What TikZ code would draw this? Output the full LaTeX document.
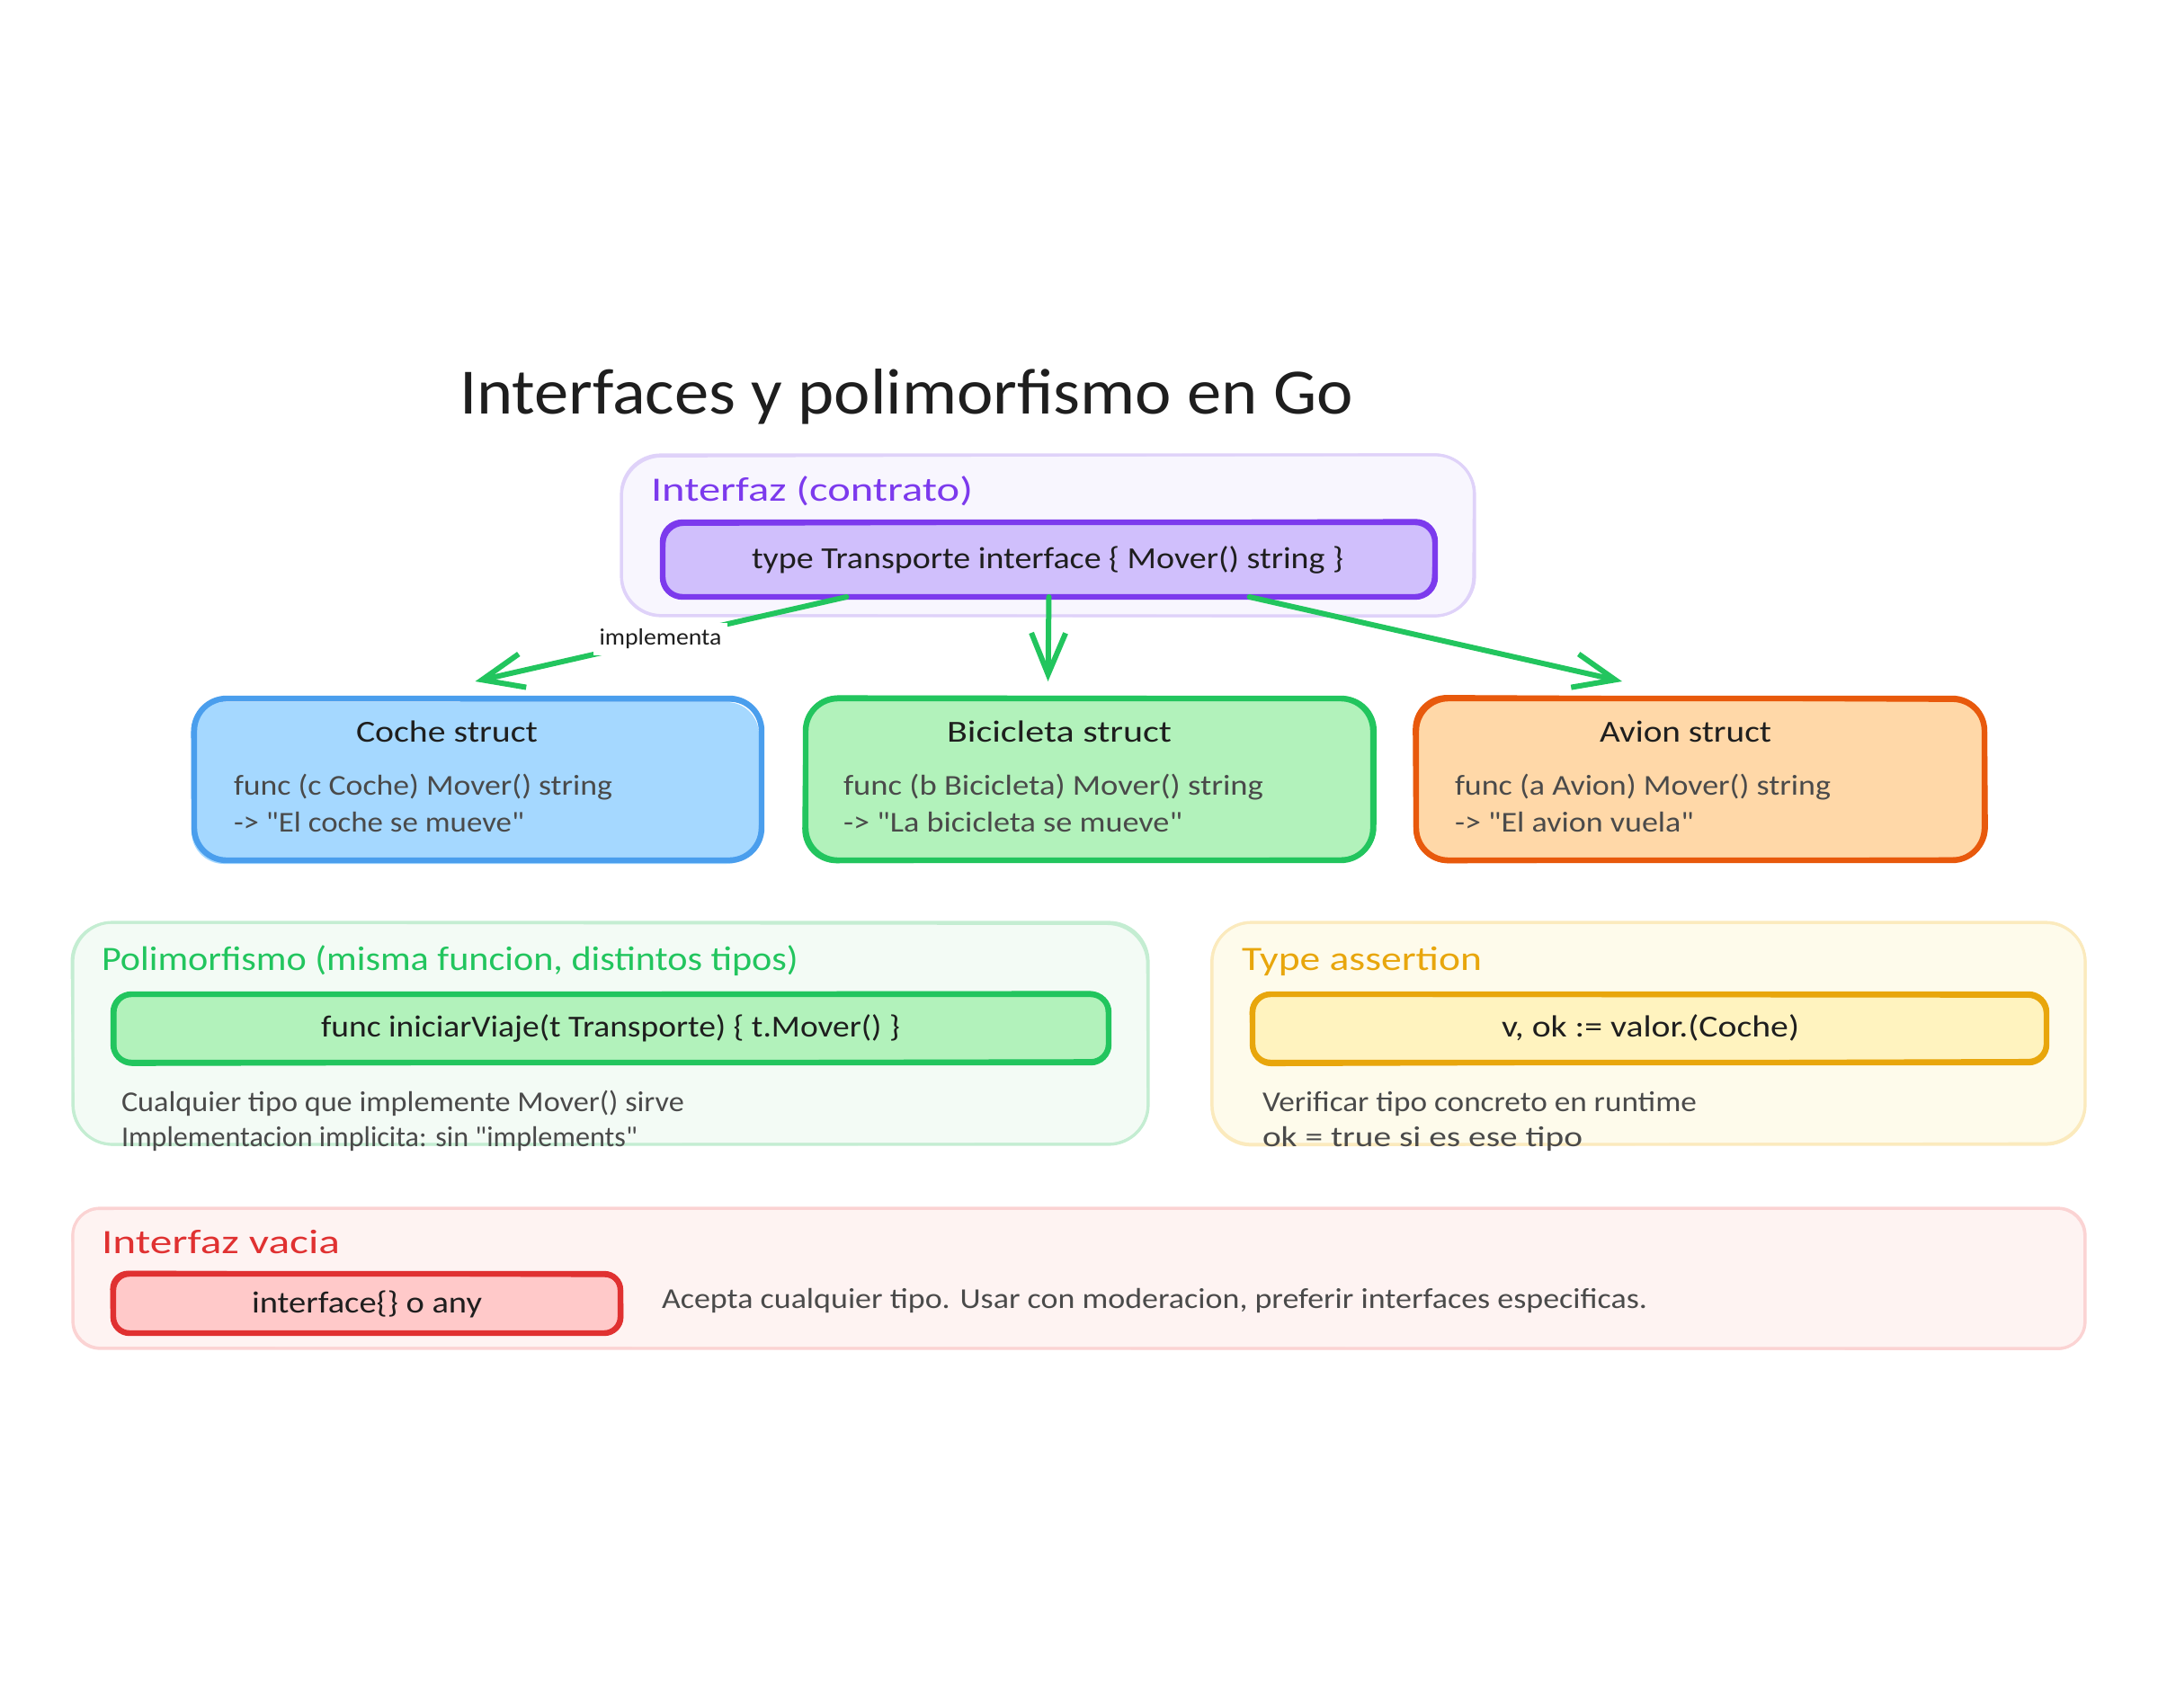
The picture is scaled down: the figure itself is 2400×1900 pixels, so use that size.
\documentclass[tikz,border=0pt]{standalone}
\usepackage{fontspec}
\usepackage{graphicx}
\setmainfont{Carlito}[Ligatures=TeXOff]
\usetikzlibrary{arrows.meta,calc}
\definecolor{ink}{HTML}{1E1E1E}
\definecolor{gray}{HTML}{4A4A4A}
\definecolor{purS}{HTML}{7C3AED}\definecolor{purF}{HTML}{D0BFFC}
\definecolor{purG}{HTML}{F8F6FE}\definecolor{purB}{HTML}{DFD2F9}
\definecolor{bluS}{HTML}{4A9EED}\definecolor{bluF}{HTML}{A5D8FF}
\definecolor{grnS}{HTML}{22C55E}\definecolor{grnF}{HTML}{B2F2BB}
\definecolor{grnG}{HTML}{F3FBF5}\definecolor{grnB}{HTML}{C4EDD2}
\definecolor{ornS}{HTML}{E8590C}\definecolor{ornF}{HTML}{FFD8A8}
\definecolor{yelS}{HTML}{E8A60C}\definecolor{yelF}{HTML}{FFF3BF}
\definecolor{yelG}{HTML}{FEFBEB}\definecolor{yelB}{HTML}{FBEABD}
\definecolor{redS}{HTML}{E03131}\definecolor{redF}{HTML}{FFC9C9}
\definecolor{redG}{HTML}{FEF3F2}\definecolor{redB}{HTML}{FBD3D3}
\newlength\fitlen
% text squeezed or stretched to a target width
\newcommand\fitx[2]{\settowidth\fitlen{#2}\pgfmathsetmacro\fitr{#1/\fitlen}\scalebox{\fitr}[1]{#2}}
% name, x0, x1, baseline, size(pt), colour, text
\newcommand\tl[7]{\pgfmathsetmacro\tgtw{(#3-#2)*0.5}%
  \node[textline,text=#6] (#1) at (#2,#4) {\fontsize{#5}{#5}\selectfont\fitx{\tgtw pt}{#7}};}
% name, x0, y0, x1, y1, stroke, fill, line width(px), radius(px); \fsx \fsy = fill offset
\def\fsx{0}\def\fsy{0}
\newcommand\skbox[9]{%
  \pgfmathsetmacro\bw{(#4-#2-#8)*0.5}\pgfmathsetmacro\bh{(#5-#3-#8)*0.5}%
  \pgfmathsetmacro\lw{#8*0.5}\pgfmathsetmacro\rr{#9*0.5}%
  \pgfmathsetmacro\hl{#8*0.5}%
  \path[fill=#7,rounded corners=\rr pt]
    ({#2+\hl+\fsx},{#3+\hl+\fsy}) -- ({#4-\hl+\fsx},{#3+\hl+\fsy}) -- ({#4-\hl+\fsx},{#5-\hl+\fsy}) -- ({#2+\hl+\fsx},{#5-\hl+\fsy}) -- cycle;
  \node[draw=#6,line width=0.8*\lw pt,rounded corners=\rr pt,minimum width=\bw pt,minimum height=\bh pt,inner sep=0pt,outer sep=0pt] (#1) at ({(#2+#4)/2},{(#3+#5)/2}) {};
  \pgfmathsetmacro\ja{rnd*4-2}\pgfmathsetmacro\jb{rnd*4-2}\pgfmathsetmacro\jc{rnd*4-2}\pgfmathsetmacro\jd{rnd*4-2}%
  \draw[#6,line width=0.6*\lw pt,rounded corners=\rr pt]
    ({#2+\hl+\ja},{#3+\hl+\jb}) -- ({#4-\hl+\jc},{#3+\hl-\ja}) -- ({#4-\hl-\jb},{#5-\hl+\jd}) -- ({#2+\hl-\jc},{#5-\hl-\jd}) -- cycle;
  \def\fsx{0}\def\fsy{0}}
\tikzset{
  textline/.style={inner sep=0pt,outer sep=0pt,anchor=base west},
  flow/.style={grnS,line width=3pt,line cap=round,-{Straight Barb[length=23pt,width=19pt,line width=3pt]}},
  edgelabel/.style={fill=white,inner sep=0pt,minimum width=74.5pt,minimum height=18pt,text=ink}
}
\begin{document}
\begin{tikzpicture}[x=0.5pt,y=-0.5pt]
\useasboundingbox (0,0) rectangle (2400,1900);
\pgfmathsetseed{11}
% group panels
\skbox{gIface}{689}{504}{1642}{687}{purB}{purG}{4}{44}
\skbox{gPoly}{79}{1024}{1279}{1275}{grnB}{grnG}{4}{44}
\skbox{gAssert}{1346}{1024}{2321}{1275}{yelB}{yelG}{4}{44}
\skbox{gEmpty}{79}{1342}{2321}{1502}{redB}{redG}{4}{30}
% inner boxes
\def\fsx{2}\def\fsy{-2}
\skbox{iface}{733}{577}{1600}{668}{purS}{purF}{8}{22}
\def\fsx{-3}\def\fsy{4}
\skbox{coche}{212}{773}{851}{961}{bluS}{bluF}{8}{36}
\def\fsx{1}\def\fsy{1}
\skbox{bici}{892}{773}{1531}{961}{grnS}{grnF}{8}{36}
\skbox{avion}{1571}{773}{2211}{961}{ornS}{ornF}{8}{36}
\skbox{poly}{122}{1102}{1237}{1186}{grnS}{grnF}{8}{20}
\skbox{assert}{1389}{1102}{2280}{1186}{yelS}{yelF}{8}{20}
\skbox{empty}{122}{1413}{694}{1487}{redS}{redF}{8}{18}
% connectors
\coordinate (s1) at ($(iface.south)+(-225,0)$);
\coordinate (s3) at ($(iface.south)+(223,0)$);
\coordinate (t1) at ($(coche.north)+(-3,-19)$);
\coordinate (t2) at ($(bici.north -| iface.south)+(-1,-19)$);
\coordinate (t3) at ($(avion.north)+(-87,-19)$);
\draw[flow] (s1) -- (t1);
\draw[flow] (iface.south) -- (t2);
\draw[flow] (s3) -- (t3);
\node[edgelabel] (lab) at (734.5,711) {\fontsize{13}{13}\selectfont\fitx{68pt}{implementa}};
% texts
\tl{title}{511}{1505}{460}{36}{ink}{Interfaces y polimorfismo en Go}
\tl{t1a}{724}{1082}{557}{19}{purS}{Interfaz (contrato)}
\tl{t1b}{836}{1494}{632}{17}{ink}{type Transporte interface \{ Mover() string \}}
\tl{t2a}{396}{598}{825}{17}{ink}{Coche struct}
\tl{t2b}{260}{681}{884}{16}{gray}{func (c Coche) Mover() string}
\tl{t2c}{260}{583}{925}{16}{gray}{-> "El coche se mueve"}
\tl{t3a}{1053}{1303}{825}{17}{ink}{Bicicleta struct}
\tl{t3b}{938}{1405}{884}{16}{gray}{func (b Bicicleta) Mover() string}
\tl{t3c}{938}{1315}{925}{16}{gray}{-> "La bicicleta se mueve"}
\tl{t4a}{1779}{1970}{825}{17}{ink}{Avion struct}
\tl{t4b}{1618}{2036}{884}{16}{gray}{func (a Avion) Mover() string}
\tl{t4c}{1618}{1884}{925}{16}{gray}{-> "El avion vuela"}
\tl{t5a}{113}{888}{1079}{19}{grnS}{Polimorfismo (misma funcion, distintos tipos)}
\tl{t5b}{357}{1001}{1153}{17}{ink}{func iniciarViaje(t Transporte) \{ t.Mover() \}}
\tl{t5c}{135}{761}{1236}{16}{gray}{Cualquier tipo que implemente Mover() sirve}
\tl{t5d}{135}{709}{1275}{16}{gray}{Implementacion implicita: sin "implements"}
\tl{t6a}{1381}{1648}{1079}{19}{yelS}{Type assertion}
\tl{t6b}{1670}{2001}{1153}{17}{ink}{v, ok := valor.(Coche)}
\tl{t6c}{1404}{1887}{1236}{16}{gray}{Verificar tipo concreto en runtime}
\tl{t6d}{1404}{1760}{1275}{16}{gray}{ok = true si es ese tipo}
\tl{t7a}{113}{378}{1394}{19}{redS}{Interfaz vacia}
\tl{t7b}{280}{536}{1460}{17}{ink}{interface\{\} o any}
\tl{t7c}{736}{1832}{1455}{16}{gray}{Acepta cualquier tipo. Usar con moderacion, preferir interfaces especificas.}
\end{tikzpicture}
\end{document}
